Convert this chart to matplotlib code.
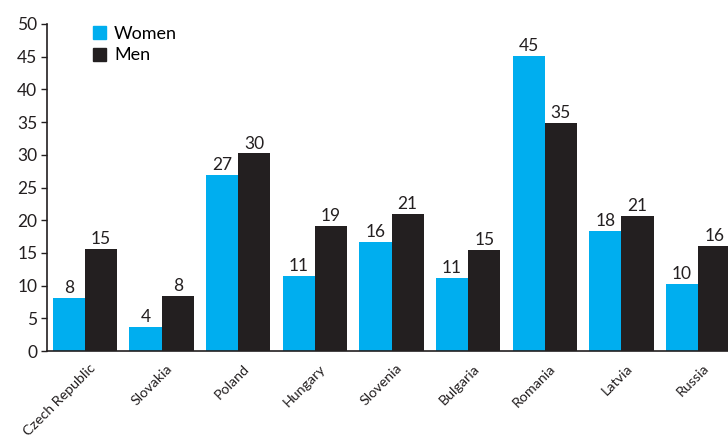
import matplotlib
matplotlib.use("Agg")
import matplotlib.pyplot as plt
import numpy as np
from matplotlib.patches import Patch

countries = ["Czech Republic", "Slovakia", "Poland", "Hungary", "Slovenia",
             "Bulgaria", "Romania", "Latvia", "Russia"]
women = [8.1, 3.7, 26.9, 11.5, 16.6, 11.2, 45.1, 18.4, 10.2]
men = [15.6, 8.4, 30.2, 19.1, 20.9, 15.5, 34.8, 20.7, 16.0]
women_labels = ["8", "4", "27", "11", "16", "11", "45", "18", "10"]
men_labels = ["15", "8", "30", "19", "21", "15", "35", "21", "16"]
yticks = [0, 5, 10, 15, 20, 25, 30, 35, 40, 45, 50]

BLUE = "#00AEEF"
DARK = "#231F20"
plt.rcParams['font.family'] = ['Lato', 'DejaVu Sans']

fig = plt.figure(figsize=(7.28, 4.38), dpi=100)
ax = fig.add_axes([47/728, 87/438, 1 - 47/728, (351-24)/438])

x = np.arange(len(countries))
w = 0.42
bw = ax.bar(x - w/2, women, w, color=BLUE, edgecolor='none')
bm = ax.bar(x + w/2, men, w, color=DARK, edgecolor='none')

for rect, lab in zip(bw, women_labels):
    ax.text(rect.get_x() + rect.get_width()/2, rect.get_height() + 0.3, lab,
            ha='center', va='bottom', fontsize=12.5, color=DARK)
for rect, lab in zip(bm, men_labels):
    ax.text(rect.get_x() + rect.get_width()/2, rect.get_height() + 0.3, lab,
            ha='center', va='bottom', fontsize=12.5, color=DARK)

ax.set_xlim(-0.496, 8.39)
ax.set_ylim(0, 50)
ax.set_yticks(yticks)
ax.set_yticklabels([str(t) for t in yticks], fontsize=12.5, color=DARK)
ax.set_xticks(x + 0.06)
ax.set_xticklabels(countries, rotation=45, ha='right', rotation_mode='anchor',
                   fontsize=10.3, color=DARK)
ax.tick_params(axis='x', length=0, pad=8)
ax.tick_params(axis='y', length=4, width=1, color=DARK, pad=3)
for s in ['top', 'right']:
    ax.spines[s].set_visible(False)
for s in ['left', 'bottom']:
    ax.spines[s].set_color(DARK)
    ax.spines[s].set_linewidth(1.2)

handles = [Patch(color=BLUE, label="Women"), Patch(color=DARK, label="Men")]
ax.legend(handles=handles, loc='upper left',
          bbox_to_anchor=((93-47)/681, (351-26)/327),
          frameon=False, fontsize=13, handlelength=0.72, handleheight=0.72,
          handletextpad=0.45, labelspacing=0.3, borderaxespad=0, borderpad=0)

fig.savefig("out.png", dpi=100)
